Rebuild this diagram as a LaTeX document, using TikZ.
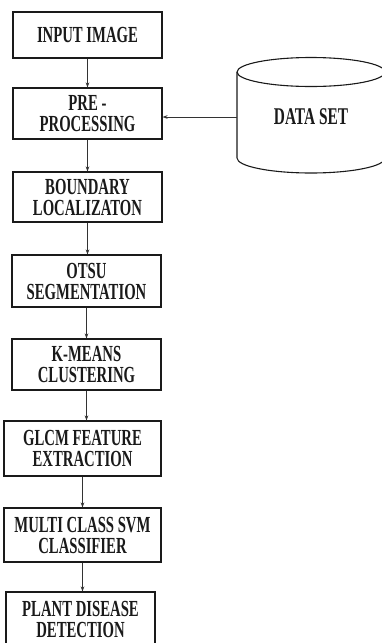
\documentclass[tikz,border=0pt]{standalone}
\usepackage{fontspec}
\setmainfont{Liberation Serif}[FakeStretch=0.64]
\usepackage{xcolor}
\definecolor{ink}{HTML}{1A1A1A}
\definecolor{wire}{HTML}{333333}
\usepackage{tikz}
\usetikzlibrary{arrows.meta,positioning}
\tikzset{
  >={Stealth[length=5pt,width=3.6pt]},
  stage/.style ={draw=ink,line width=1.1pt,fill=white,align=center,
                 font=\fontsize{23pt}{21pt}\selectfont\bfseries,
                 inner sep=0pt,text=ink},
  store/.style ={draw=ink,line width=1.1pt},
  flow/.style  ={->,draw=wire,line width=0.8pt},
}
\begin{document}
\begin{tikzpicture}[x=1pt,y=-1pt]
\useasboundingbox (0,0) rectangle (382,643);
\clip (0,0) rectangle (382,643);

%================= processing chain
\node[stage,minimum width=149pt,minimum height=46pt] (input)  at (87.5,35)   {INPUT IMAGE};
\node[stage,minimum width=149pt,minimum height=51pt] (prep)   at (87.5,113.5){PRE -\\PROCESSING};
\node[stage,minimum width=149pt,minimum height=50pt] (bound)  at (87.5,197)  {BOUNDARY\\LOCALIZATON};
\node[stage,minimum width=149pt,minimum height=52pt] (otsu)   at (86.5,281)  {OTSU\\SEGMENTATION};
\node[stage,minimum width=149pt,minimum height=51pt] (kmeans) at (86.5,364.5){K-MEANS\\CLUSTERING};
\node[stage,minimum width=157pt,minimum height=55pt] (glcm)   at (82.5,448.5){GLCM FEATURE\\EXTRACTION};
\node[stage,minimum width=157pt,minimum height=54pt] (svm)    at (82.5,535)  {MULTI CLASS SVM\\CLASSIFIER};
\node[stage,minimum width=149pt,minimum height=54pt] (detect) at (80.5,619)  {PLANT DISEASE\\DETECTION};

\foreach \a/\b in {input/prep, prep/bound, bound/otsu, otsu/kmeans,
                   kmeans/glcm, glcm/svm, svm/detect}
  \draw[flow] (\a.south) -- (\a.south |- \b.north);

%================= data set store
\draw[store] (237,72) -- (237,158) arc[start angle=180,end angle=0,x radius=74,y radius=15] -- (385,72);
\draw[store] (311,72) ellipse[x radius=74,y radius=14.5];
\node[font=\fontsize{24pt}{24pt}\selectfont\bfseries,text=ink,minimum width=148pt,inner sep=0pt]
  (dataset) at (311,117) {DATA SET};
\draw[flow] (dataset.west) -- (dataset.west -| prep.east);
\end{tikzpicture}
\end{document}
